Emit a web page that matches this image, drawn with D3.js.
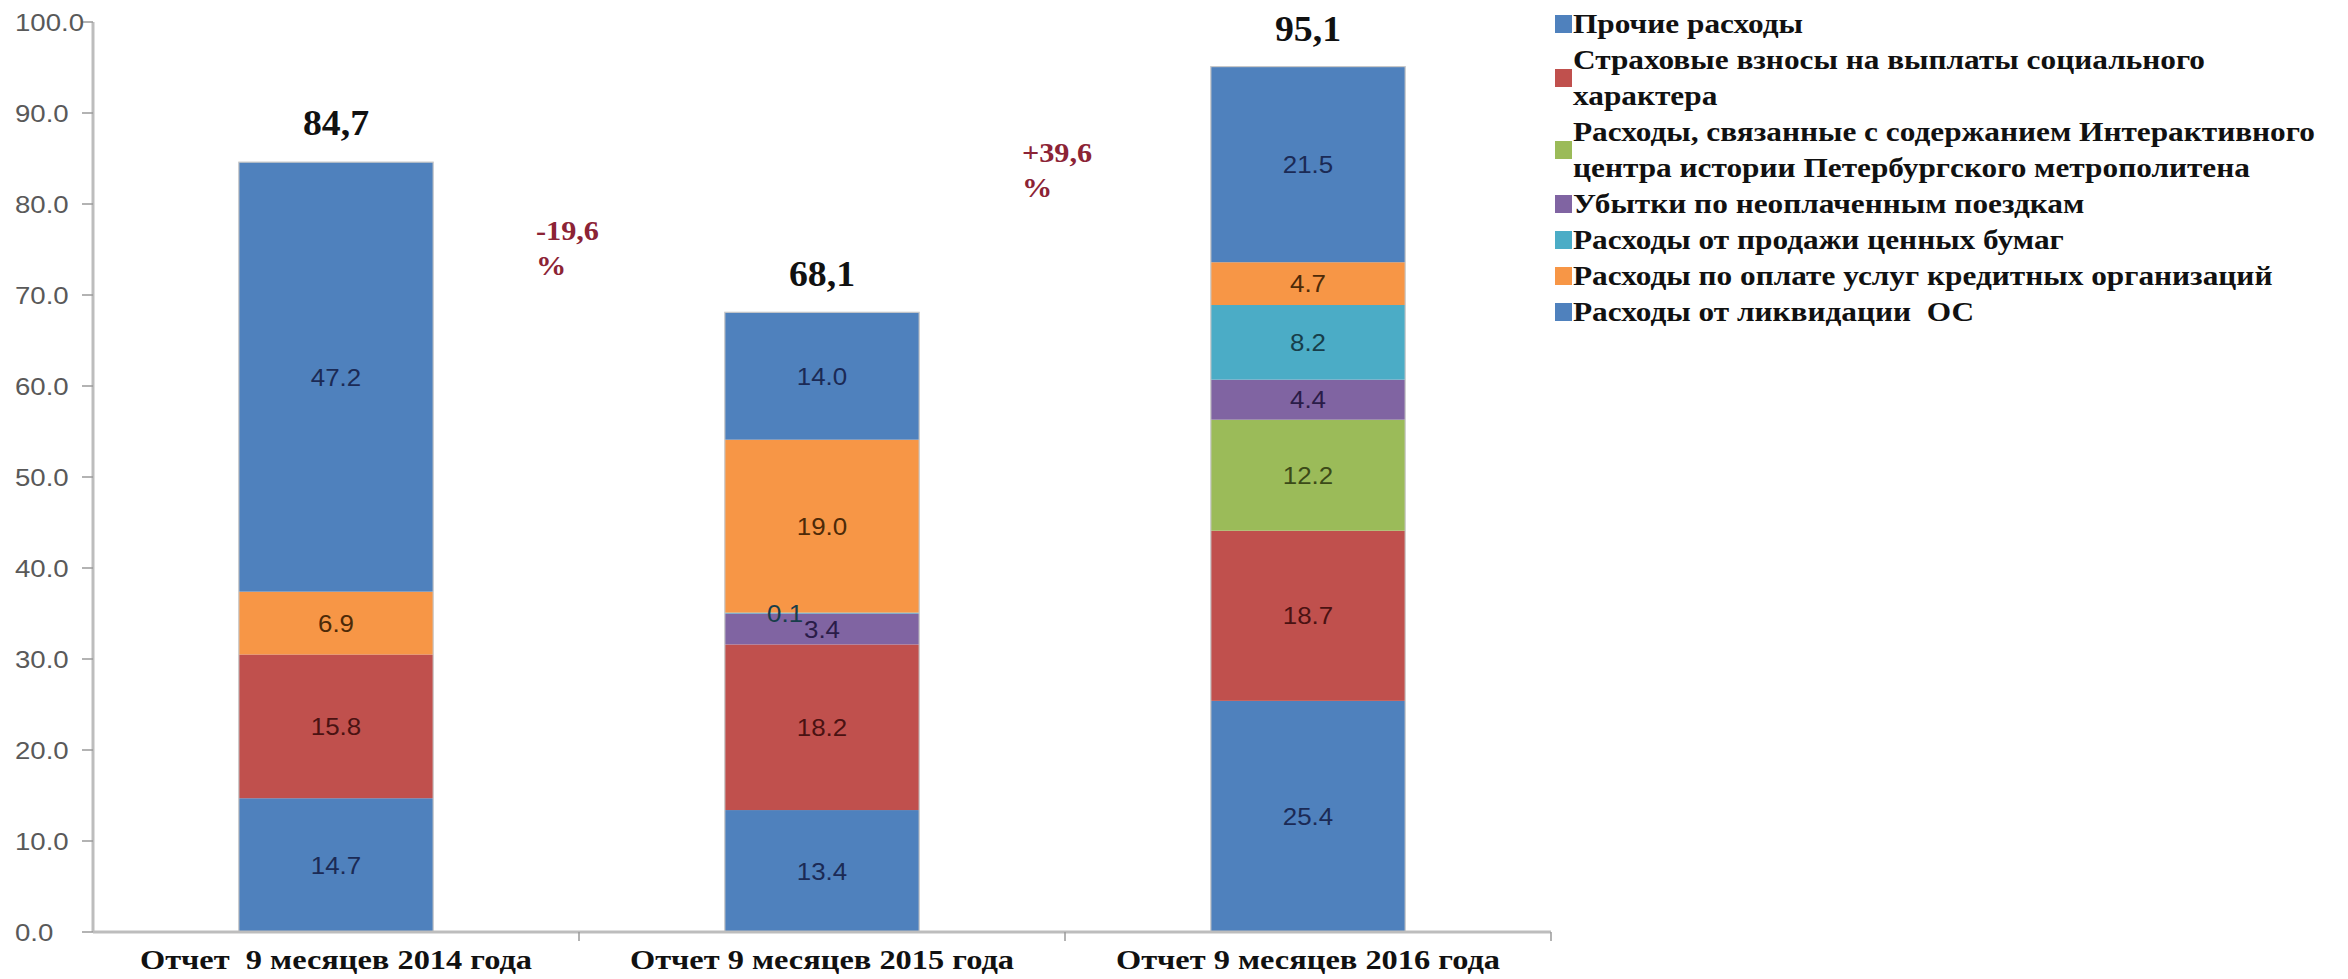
<!DOCTYPE html>
<html>
<head>
<meta charset="utf-8">
<script src="https://cdn.jsdelivr.net/npm/d3@7"></script>
<style>
  html, body { margin: 0; padding: 0; background: #fff; }
  svg { display: block; }
</style>
</head>
<body>
<svg id="chart" width="2348" height="979"></svg>
<script>
// ---- Data ----
const categories = ["Отчет  9 месяцев 2014 года", "Отчет 9 месяцев 2015 года", "Отчет 9 месяцев 2016 года"];
const seriesNames = [
  "Прочие расходы",
  "Страховые взносы на выплаты социального характера",
  "Расходы, связанные с содержанием Интерактивного центра истории Петербургского метрополитена",
  "Убытки по неоплаченным поездкам",
  "Расходы от продажи ценных бумаг",
  "Расходы по оплате услуг кредитных организаций",
  "Расходы от ликвидации  ОС"
];
const legendLines = [
  ["Прочие расходы"],
  ["Страховые взносы на выплаты социального", "характера"],
  ["Расходы, связанные с содержанием Интерактивного", "центра истории Петербургского метрополитена"],
  ["Убытки по неоплаченным поездкам"],
  ["Расходы от продажи ценных бумаг"],
  ["Расходы по оплате услуг кредитных организаций"],
  ["Расходы от ликвидации  ОС"]
];
const prochie      = [14.7, 13.4, 25.4];
const strakhovye   = [15.8, 18.2, 18.7];
const interaktiv   = [0,    0,    12.2];
const ubytki       = [0,    3.4,  4.4];
const tsennye      = [0,    0.1,  8.2];
const kreditnye    = [6.9,  19.0, 4.7];
const likvidatsiya = [47.2, 14.0, 21.5];
const seriesValues = [prochie, strakhovye, interaktiv, ubytki, tsennye, kreditnye, likvidatsiya];
const totalLabels = ["84,7", "68,1", "95,1"];
const totalValues = [84.7, 68.1, 95.1];
const changeLabels = [["-19,6", "%"], ["+39,6", "%"]];
const changeLevels = [76, 84.6];
const yTicks = [0, 10, 20, 30, 40, 50, 60, 70, 80, 90, 100];

const colors = ["#4F81BD", "#C0504D", "#9BBB59", "#8064A2", "#4BACC6", "#F79646", "#4F81BD"];
const labelColors = ["#1b2a55", "#4a1212", "#3b4a18", "#2a1c48", "#173e4a", "#4d2a08", "#1b2a55"];

// ---- Layout ----
const svg = d3.select("#chart");
const x = d3.scaleBand().domain(categories).range([93, 1551]).paddingInner(0.6).paddingOuter(0.3);
const y = d3.scaleLinear().domain([0, 100]).range([932, 22]);

const SERIF = "Liberation Serif, Times New Roman, serif";
const SANS = "Liberation Sans, Arial, sans-serif";

function stretchedText(sel, fx, fy, sx) {
  return sel.attr("x", 0).attr("y", 0)
    .attr("transform", (d, i) => `translate(${fx(d, i)},${fy(d, i)}) scale(${sx},1)`);
}

// stack
const table = categories.map((c, i) => {
  const row = { cat: c };
  seriesNames.forEach((s, j) => row[s] = seriesValues[j][i]);
  return row;
});
const stacked = d3.stack().keys(seriesNames)(table);

// bars
const gBars = svg.append("g");
stacked.forEach((layer, j) => {
  gBars.selectAll(null).data(layer.filter(d => d[1] - d[0] > 0)).enter().append("rect")
    .attr("x", d => x(d.data.cat))
    .attr("width", x.bandwidth())
    .attr("y", d => y(d[1]))
    .attr("height", d => y(d[0]) - y(d[1]))
    .attr("fill", colors[j]);
});
gBars.selectAll(null).data(categories).enter().append("rect")
  .attr("x", d => x(d)).attr("width", x.bandwidth())
  .attr("y", (d, i) => y(d3.sum(seriesValues, s => s[i])))
  .attr("height", (d, i) => y(0) - y(d3.sum(seriesValues, s => s[i])))
  .attr("fill", "none").attr("stroke", "#c8c8c8").attr("stroke-width", 1.2);

// data labels
stacked.forEach((layer, j) => {
  const t = svg.append("g").selectAll(null).data(layer.filter(d => d[1] - d[0] > 0)).enter().append("text")
    .attr("dy", "0.36em")
    .attr("text-anchor", "middle")
    .attr("font-family", SANS)
    .attr("font-size", 24)
    .attr("fill", labelColors[j])
    .text(d => (d[1] - d[0]).toFixed(1));
  stretchedText(t,
    d => x(d.data.cat) + x.bandwidth() / 2 + ((d[1] - d[0]) < 1 ? -0.19 * x.bandwidth() : 0),
    d => y((d[0] + d[1]) / 2), 1.08);
});

// y axis
const gy = svg.append("g");
gy.append("line").attr("x1", 93).attr("x2", 93).attr("y1", y(100)).attr("y2", y(0))
  .attr("stroke", "#bdbdbd").attr("stroke-width", 3);
gy.selectAll(null).data(yTicks).enter().append("line")
  .attr("x1", 82).attr("x2", 93).attr("y1", d => y(d)).attr("y2", d => y(d))
  .attr("stroke", "#9a9a9a").attr("stroke-width", 1.5);
stretchedText(
  gy.selectAll(null).data(yTicks).enter().append("text")
    .attr("dy", "0.36em")
    .attr("font-family", SANS)
    .attr("font-size", 24).attr("fill", "#595959")
    .text(d => d.toFixed(1)),
  () => 15, d => y(d), 1.15);

// x axis
const gx = svg.append("g");
gx.append("line").attr("x1", 93).attr("x2", 1551).attr("y1", y(0)).attr("y2", y(0))
  .attr("stroke", "#bdbdbd").attr("stroke-width", 3);
const bounds = categories.map(c => x(c) - x.step() * x.paddingInner() / 2).slice(1).concat([1551]);
gx.selectAll(null).data(bounds).enter().append("line")
  .attr("x1", d => d).attr("x2", d => d).attr("y1", y(0)).attr("y2", y(0) + 9)
  .attr("stroke", "#9a9a9a").attr("stroke-width", 1.5);
stretchedText(
  gx.selectAll(null).data(categories).enter().append("text")
    .attr("text-anchor", "middle")
    .attr("font-family", SERIF)
    .attr("font-weight", "bold").attr("font-size", 27).attr("fill", "#111")
    .style("white-space", "pre")
    .text(d => d),
  d => x(d) + x.bandwidth() / 2, () => 969, 1.2);

// totals
stretchedText(
  svg.append("g").selectAll(null).data(categories).enter().append("text")
    .attr("text-anchor", "middle")
    .attr("font-family", SERIF)
    .attr("font-weight", "bold").attr("font-size", 35).attr("fill", "#111")
    .text((d, i) => totalLabels[i]),
  d => x(d) + x.bandwidth() / 2, (d, i) => y(totalValues[i]) - 26, 1.08);

// change annotations
changeLabels.forEach((lines, i) => {
  const bx = bounds[i] - 43;
  const t = svg.append("text")
    .attr("transform", `translate(${bx},${y(changeLevels[i])}) scale(1.08,1)`)
    .attr("font-family", SERIF)
    .attr("font-weight", "bold").attr("font-size", 28).attr("fill", "#8c2335");
  lines.forEach((l, k) => t.append("tspan").attr("x", 0).attr("dy", k === 0 ? 0 : 35).text(l));
});

// legend
const lg = svg.append("g");
let ly = 24;
const lineH = 36;
legendLines.forEach((lines, i) => {
  const mid = ly + (lines.length - 1) * lineH / 2;
  lg.append("rect").attr("x", 1555).attr("y", mid - 9).attr("width", 17).attr("height", 18)
    .attr("fill", colors[i]);
  lines.forEach((l, k) => {
    lg.append("text")
      .attr("transform", `translate(1573,${ly + k * lineH}) scale(1.16,1)`)
      .attr("dy", "0.35em")
      .attr("font-family", SERIF)
      .attr("font-weight", "bold").attr("font-size", 27).attr("fill", "#111")
      .style("white-space", "pre")
      .text(l);
  });
  ly += lines.length * lineH;
});
</script>
</body>
</html>
